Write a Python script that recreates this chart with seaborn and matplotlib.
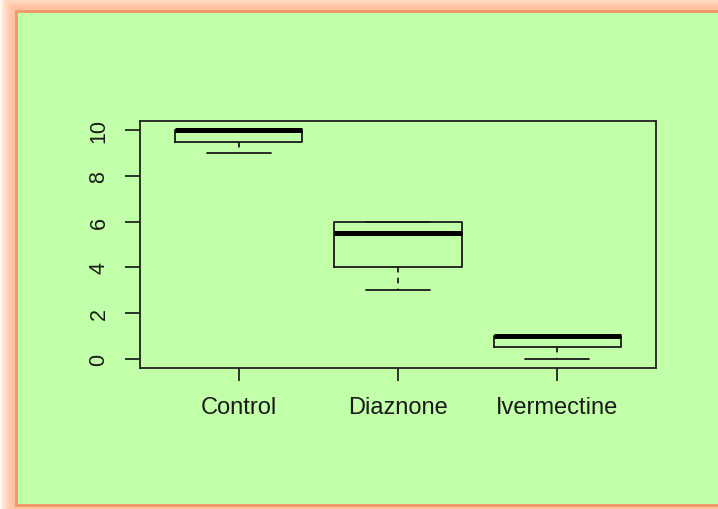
import numpy as np
import pandas as pd
import matplotlib
matplotlib.use("Agg")
import matplotlib.pyplot as plt
from matplotlib.patches import Rectangle
import seaborn as sns

# values
groups = ["Control", "Diaznone", "Ivermectine"]
control = [9, 9.5, 10, 10, 10]
diaznone = [3, 4, 5.5, 6, 6]
ivermectine = [0, 0.5, 1, 1, 1]
y_ticks = [0, 2, 4, 6, 8, 10]

df = pd.DataFrame({
    "group": np.repeat(groups, [len(control), len(diaznone), len(ivermectine)]),
    "value": control + diaznone + ivermectine,
})

sns.set_style("white")
plt.rcParams["font.family"] = ["Liberation Sans", "DejaVu Sans"]

W, H, DPI = 718, 510, 100
fig = plt.figure(figsize=(W / DPI, H / DPI), dpi=DPI, facecolor="white")

# background frame: peach glow, orange edge, light green panel
bg = fig.add_axes([0, 0, 1, 1], zorder=0)
bg.set_xlim(0, W)
bg.set_ylim(H, 0)
bg.axis("off")
for k in range(16, 0, -1):
    bg.add_patch(Rectangle((16 - k, 12 - k), 800, 494 + 2 * k,
                           facecolor="#FFAE7C", edgecolor="none", alpha=0.085))
bg.add_patch(Rectangle((16, 12), 800, 494, facecolor="#C1FFA8",
                       edgecolor="#F3946A", linewidth=2))

ax = fig.add_axes([140 / W, 1 - 369 / H, 516 / W, 247 / H], zorder=1)
ax.set_facecolor("none")

sns.boxplot(data=df, x="group", y="value", order=groups, ax=ax,
            fill=False, color="#1a1a1a", width=0.8, linewidth=1.3,
            medianprops={"linewidth": 3.6, "color": "black"},
            whiskerprops={"linestyle": (0, (3, 3))},
            showfliers=False)

ax.set_xlim(-0.62, 2.62)
ax.set_ylim(-0.4, 10.4)
ax.set_yticks(y_ticks)
ax.set_yticklabels([str(v) for v in y_ticks], rotation=90, va="center")
ax.set_xlabel("")
ax.set_ylabel("")

for s in ax.spines.values():
    s.set_visible(True)
    s.set_color("#222222")
    s.set_linewidth(1.3)
ax.tick_params(axis="both", direction="out", color="#222222", width=1.3,
               labelcolor="#1a1a1a")
ax.tick_params(axis="y", length=11, pad=11, labelsize=15.5)
ax.tick_params(axis="x", length=9.5, pad=11, labelsize=17)
ax.tick_params(left=True, bottom=True)

fig.savefig("out.png", dpi=DPI, facecolor="white")
